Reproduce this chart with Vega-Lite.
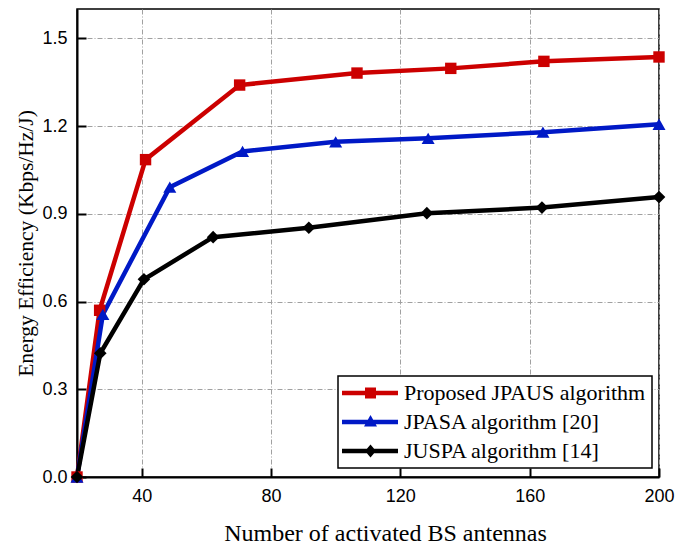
{
  "$schema": "https://vega.github.io/schema/vega-lite/v6.json",
  "autosize": "none",
  "width": 582,
  "height": 468,
  "padding": {"left": 77, "top": 9, "right": 30, "bottom": 67},
  "background": "white",
  "config": {
    "view": {"stroke": "black", "strokeWidth": 1.5},
    "axis": {
      "labelFont": "Liberation Sans",
      "labelFontSize": 18,
      "labelColor": "black",
      "labelFlush": false,
      "titleFont": "Liberation Serif",
      "titleFontWeight": "normal",
      "titleColor": "black",
      "domainColor": "black",
      "domainWidth": 2,
      "tickColor": "black",
      "tickWidth": 2,
      "tickSize": -9,
      "gridColor": "#a0a0a0",
      "gridWidth": 1,
      "gridDash": [5, 2, 1, 2]
    }
  },
  "data": {
    "values": [
      {"antennas": 20, "ee": 0, "algorithm": "Proposed JPAUS algorithm"},
      {"antennas": 27, "ee": 0.57, "algorithm": "Proposed JPAUS algorithm"},
      {"antennas": 41.2, "ee": 1.085, "algorithm": "Proposed JPAUS algorithm"},
      {"antennas": 70.3, "ee": 1.34, "algorithm": "Proposed JPAUS algorithm"},
      {"antennas": 106.6, "ee": 1.381, "algorithm": "Proposed JPAUS algorithm"},
      {"antennas": 135.6, "ee": 1.397, "algorithm": "Proposed JPAUS algorithm"},
      {"antennas": 164.4, "ee": 1.421, "algorithm": "Proposed JPAUS algorithm"},
      {"antennas": 200, "ee": 1.436, "algorithm": "Proposed JPAUS algorithm"},
      {"antennas": 20, "ee": 0, "algorithm": "JPASA algorithm [20]"},
      {"antennas": 28, "ee": 0.556, "algorithm": "JPASA algorithm [20]"},
      {"antennas": 48.7, "ee": 0.991, "algorithm": "JPASA algorithm [20]"},
      {"antennas": 71.2, "ee": 1.113, "algorithm": "JPASA algorithm [20]"},
      {"antennas": 100, "ee": 1.146, "algorithm": "JPASA algorithm [20]"},
      {"antennas": 128.6, "ee": 1.158, "algorithm": "JPASA algorithm [20]"},
      {"antennas": 164.1, "ee": 1.179, "algorithm": "JPASA algorithm [20]"},
      {"antennas": 200, "ee": 1.206, "algorithm": "JPASA algorithm [20]"},
      {"antennas": 20, "ee": 0, "algorithm": "JUSPA algorithm [14]"},
      {"antennas": 27.2, "ee": 0.423, "algorithm": "JUSPA algorithm [14]"},
      {"antennas": 40.7, "ee": 0.676, "algorithm": "JUSPA algorithm [14]"},
      {"antennas": 62.1, "ee": 0.82, "algorithm": "JUSPA algorithm [14]"},
      {"antennas": 91.7, "ee": 0.852, "algorithm": "JUSPA algorithm [14]"},
      {"antennas": 128.2, "ee": 0.902, "algorithm": "JUSPA algorithm [14]"},
      {"antennas": 163.8, "ee": 0.921, "algorithm": "JUSPA algorithm [14]"},
      {"antennas": 200, "ee": 0.957, "algorithm": "JUSPA algorithm [14]"}
    ]
  },
  "encoding": {
    "x": {
      "field": "antennas",
      "type": "quantitative",
      "scale": {"domain": [20, 200], "nice": false, "zero": false},
      "axis": {
        "title": "Number of activated BS antennas",
        "titleFontSize": 24,
        "titleX": 308,
        "values": [40, 80, 120, 160, 200],
        "labelPadding": 19,
        "titlePadding": 16
      }
    },
    "y": {
      "field": "ee",
      "type": "quantitative",
      "scale": {"domain": [0, 1.6], "nice": false},
      "axis": {
        "title": "Energy Efficiency (Kbps/Hz/J)",
        "titleFontSize": 21.5,
        "values": [0, 0.3, 0.6, 0.9, 1.2, 1.5],
        "format": ".1f",
        "labelPadding": 19,
        "titlePadding": 4
      }
    },
    "color": {
      "field": "algorithm",
      "type": "nominal",
      "sort": null,
      "scale": {
        "domain": ["Proposed JPAUS algorithm", "JPASA algorithm [20]", "JUSPA algorithm [14]"],
        "range": ["#cc0000", "#0019c6", "#000000"]
      },
      "legend": {
        "title": null,
        "orient": "none",
        "legendX": 261,
        "legendY": 367,
        "direction": "vertical",
        "fillColor": "white",
        "strokeColor": "black",
        "padding": 6,
        "labelFont": "Liberation Serif",
        "labelFontSize": 22,
        "labelColor": "black",
        "labelLimit": 400,
        "labelOffset": 38,
        "rowPadding": 7,
        "symbolSize": 400,
        "symbolStrokeWidth": 0,
        "encode": {
          "legend": {"update": {"strokeWidth": {"value": 1.5}}},
          "symbols": {
            "update": {
              "shape": {
                "signal": "datum.value == 'Proposed JPAUS algorithm' ? 'M-1.3,-0.22H4.3V0.22H-1.3Z M1.0,-0.55H2.1V0.55H1.0Z' : datum.value == 'JPASA algorithm [20]' ? 'M-1.3,-0.22H4.3V0.22H-1.3Z M1.55,-0.7L2.2,0.45L0.9,0.45Z' : 'M-1.3,-0.22H4.3V0.22H-1.3Z M1.55,-0.65L2.1,0L1.55,0.65L1.0,0Z'"
              },
              "fill": {"scale": "color", "field": "value"},
              "strokeWidth": {"value": 0}
            }
          }
        }
      }
    }
  },
  "layer": [
    {
      "mark": {"type": "line", "strokeWidth": 4.5, "clip": false}
    },
    {
      "transform": [{"filter": "datum.algorithm == 'Proposed JPAUS algorithm'"}],
      "mark": {"type": "point", "shape": "square", "size": 130, "filled": true, "opacity": 1, "clip": false, "strokeWidth": 1}
    },
    {
      "transform": [{"filter": "datum.algorithm == 'JPASA algorithm [20]'"}],
      "mark": {"type": "point", "shape": "triangle-up", "size": 170, "filled": true, "opacity": 1, "clip": false, "strokeWidth": 1}
    },
    {
      "transform": [{"filter": "datum.algorithm == 'JUSPA algorithm [14]'"}],
      "mark": {"type": "point", "shape": "diamond", "size": 160, "filled": true, "opacity": 1, "clip": false, "strokeWidth": 1}
    }
  ]
}
